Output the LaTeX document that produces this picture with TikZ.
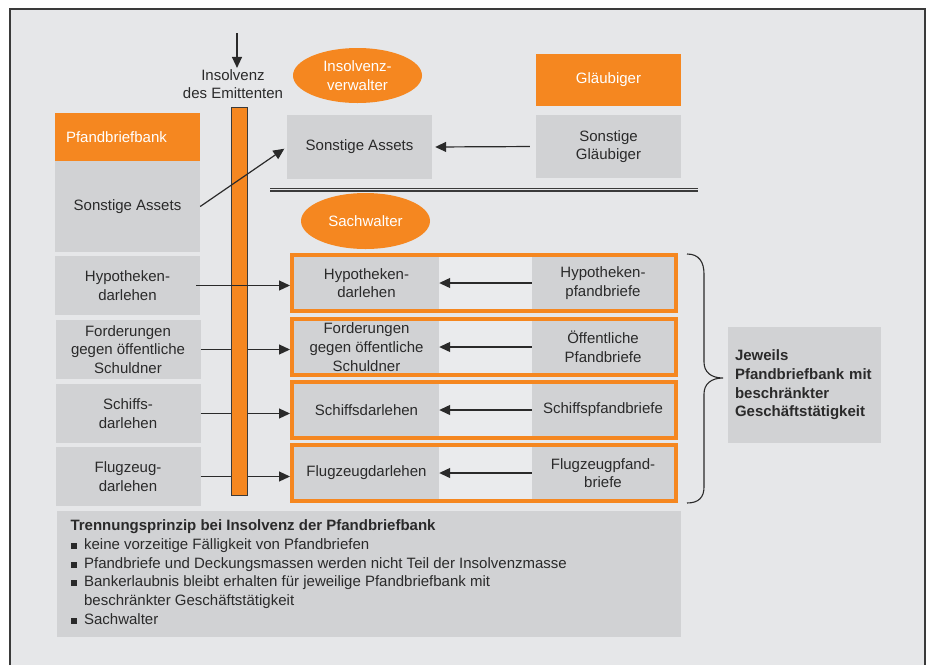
\documentclass[tikz,border=0pt]{standalone}
\usepackage{fontspec}
\setmainfont{Liberation Sans}
\usetikzlibrary{arrows.meta,shapes.geometric}
\definecolor{bgc}{HTML}{E6E7E9}
\definecolor{boxc}{HTML}{D1D2D4}
\definecolor{orc}{HTML}{F58720}
\definecolor{txt}{HTML}{2A2A2A}
\definecolor{midc}{HTML}{EAEBED}
\definecolor{linec}{HTML}{3A3A3A}
\newcommand\fsz{\fontsize{15}{18.7}\selectfont}
\newcommand\sqb{\makebox[13.6pt][l]{\rule[0.5pt]{6pt}{6pt}}}
\begin{document}
\begin{tikzpicture}[x=1pt,y=-1pt,font=\fsz,
  gbox/.style={fill=boxc, text=txt, align=center, inner sep=0pt, minimum width=145pt},
  obox/.style={fill=orc, text=white, align=center, inner sep=0pt},
  oell/.style={ellipse, fill=orc, text=white, align=center, inner sep=0pt, minimum width=129pt, minimum height=55pt},
  arr/.style={draw=txt, line width=1.2pt, -{Triangle[length=11pt,width=10pt]}},
  frm/.style={draw=orc, line width=4pt, fill=midc, minimum width=384pt, minimum height=56pt, inner sep=0pt}]
\useasboundingbox (0,0) rectangle (929,665);
\fill[white] (0,0) rectangle (929,665);
\fill[bgc] (10,9) rectangle (925,665);
\draw[linec, line width=1.3pt] (10,665) -- (10,9) -- (925,9) -- (925,665);

% left column
\node[obox, minimum width=145pt, minimum height=48pt, text width=123pt, align=left, inner xsep=11pt] (pfb) at (127.5,137) {Pfandbriefbank};
\node[gbox, minimum height=91pt] (lsa) at (127.5,206.5) {Sonstige Assets};
\node[gbox, minimum height=59pt] (lhyp) at (127.5,285.5) {Hypotheken-\\darlehen};
\node[gbox, minimum height=59pt] (lford) at (128,349.5) {Forderungen\\gegen öffentliche\\Schuldner};
\node[gbox, minimum height=59pt] (lschiff) at (128,413.5) {Schiffs-\\darlehen};
\node[gbox, minimum height=59pt] (lflug) at (128,476.5) {Flugzeug-\\darlehen};

% insolvency label
\node[text=txt, align=center, inner sep=1pt] (ins) at (233,84) {Insolvenz\\des Emittenten};
\coordinate (instop) at (237,33);
\draw[arr] (instop) -- (instop |- ins.north);

% top right
\node[oell] (iv) at (357.5,75.5) {Insolvenz-\\verwalter};
\node[gbox, minimum height=64pt] (msa) at (359.5,147) {Sonstige Assets};
\node[obox, minimum width=145pt, minimum height=52pt] (gl) at (608.5,80) {Gläubiger};
\node[gbox, minimum height=63pt] (sg) at (608.5,146.5) {Sonstige\\Gläubiger};
\draw[arr, shorten <=6pt, shorten >=3pt] (sg.west) -- (msa.east);

% double separator
\coordinate (dla) at (270,189.5);
\coordinate (dlb) at (698,189.5);
\draw[linec, double=bgc, double distance=1.6pt, line width=1.2pt] (dla) -- (dlb);

\node[oell, minimum height=56pt] (sw) at (365.5,221) {Sachwalter};

% frames
\node[frm] (f1) at (484,283) {};
\node[frm] (f2) at (484,347) {};
\node[frm] (f3) at (484,410) {};
\node[frm] (f4) at (484,473) {};

\node[gbox, minimum height=52pt] (m1) at (366.5,283) {Hypotheken-\\darlehen};
\node[gbox, minimum width=142pt, minimum height=52pt] (p1) at (603,283) {Hypotheken-\\pfandbriefe};
\node[gbox, minimum height=52pt] (m2) at (366.5,347) {Forderungen\\gegen öffentliche\\Schuldner};
\node[gbox, minimum width=142pt, minimum height=52pt] (p2) at (603,347) {Öffentliche\\Pfandbriefe};
\node[gbox, minimum height=52pt] (m3) at (366.5,410) {Schiffsdarlehen};
\node[gbox, minimum width=142pt, minimum height=52pt] (p3) at (603,410) {Schiffspfandbriefe};
\node[gbox, minimum height=52pt] (m4) at (366.5,473) {Flugzeugdarlehen};
\node[gbox, minimum width=142pt, minimum height=52pt] (p4) at (603,473) {Flugzeugpfand-\\briefe};

\draw[arr] (p1.west) -- (m1.east);
\draw[arr] (p2.west) -- (m2.east);
\draw[arr] (p3.west) -- (m3.east);
\draw[arr] (p4.west) -- (m4.east);

% arrows passing behind the bar
\draw[arr] (lford.east) -- (lford.east -| f2.west);
\draw[arr] (lschiff.east) -- (lschiff.east -| f3.west);
\draw[arr] (lflug.east) -- (lflug.east -| f4.west);

% bar
\node[draw=linec, line width=1pt, fill=orc, minimum width=16pt, minimum height=388pt, inner sep=0pt] (bar) at (239,301) {};

% arrows over the bar
\draw[arr] ([xshift=-4pt]lhyp.east) -- (lhyp.east -| f1.west);
\draw[arr, shorten >=3pt] (lsa.east) -- (msa.west);

% brace
\coordinate (bt) at (687,254);
\coordinate (bbt) at (687,503);
\coordinate (btip) at (723,378);
\draw[txt, line width=1.1pt] (bt) .. controls (699,254) and (704,262) .. (704,274) -- (704,362) .. controls (704,372) and (711,378) .. (btip) .. controls (711,378) and (704,384) .. (704,394) -- (704,487) .. controls (704,497) and (699,503) .. (bbt);

\node[gbox, minimum width=153pt, minimum height=116pt, text width=139pt, align=left, inner xsep=7pt, font=\fsz\bfseries] (jw) at (804.5,385) {Jeweils\\Pfandbriefbank mit\\beschränkter\\Geschäftstätigkeit};

% bottom box
\node[fill=boxc, minimum width=624.5pt, minimum height=126pt, inner sep=0pt] (bot) at (368.75,574) {};
\node[anchor=north west, text=txt, align=left, inner sep=0pt] (bottxt) at ([xshift=14pt, yshift=-9pt]bot.north west) {\textbf{Trennungsprinzip bei Insolvenz der Pfandbriefbank}\\
\sqb keine vorzeitige Fälligkeit von Pfandbriefen\\
\sqb Pfandbriefe und Deckungsmassen werden nicht Teil der Insolvenzmasse\\
\sqb Bankerlaubnis bleibt erhalten für jeweilige Pfandbriefbank mit\\
\hspace*{13.6pt}beschränkter Geschäftstätigkeit\\
\sqb Sachwalter};
\end{tikzpicture}
\end{document}
